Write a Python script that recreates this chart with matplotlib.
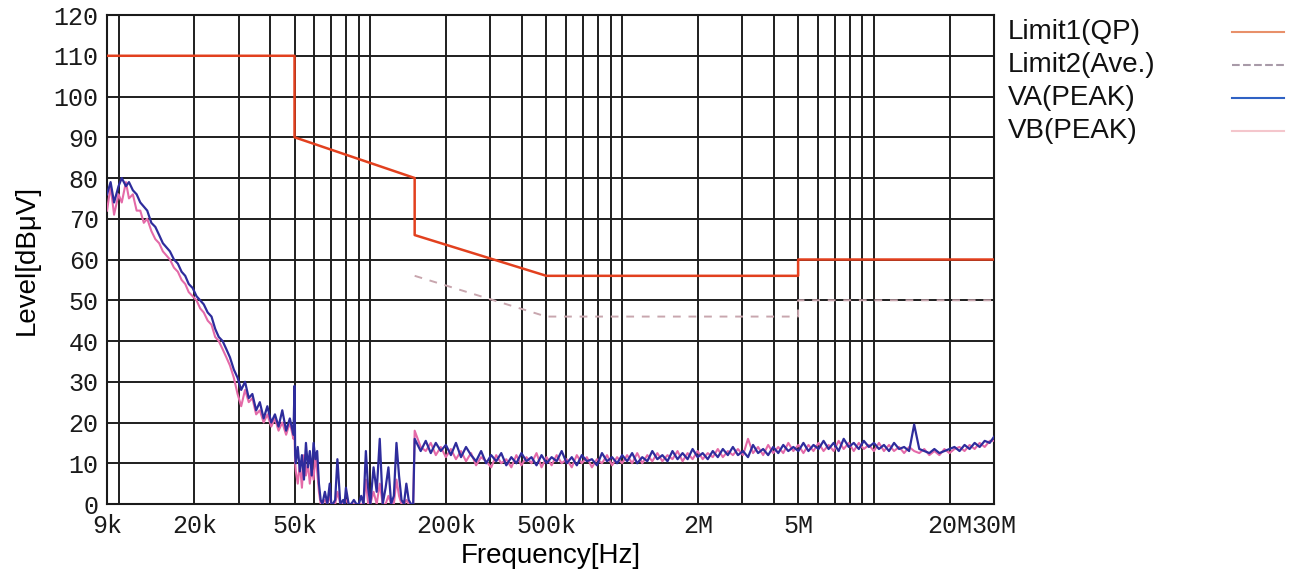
# Conducted emission scan: QP / average limits and peak traces for lines A and B
import numpy as np
import matplotlib
matplotlib.use("Agg")
import matplotlib.pyplot as plt
from matplotlib.lines import Line2D
from matplotlib.ticker import FixedLocator, FixedFormatter, LogLocator, NullFormatter

# Limit lines (frequency in Hz, level in dBuV)
limit1_freq = [9e3, 50e3, 50e3, 150e3, 150e3, 500e3, 5e6, 5e6, 30e6]
limit1_level = [110, 110, 90, 80, 66, 56, 56, 60, 60]
limit2_freq = [150e3, 500e3, 5e6, 5e6, 30e6]
limit2_level = [56, 46, 46, 50, 50]

# Receiver sweep frequencies in kHz (same sweep for both lines)
sweep_khz = [
    # 9k - 50k
    9, 9.3, 9.6, 10, 10.3, 10.7, 11, 11.4, 11.8, 12.2,
    12.6, 13, 13.5, 14, 14.5, 15, 15.5, 16, 16.6, 17.2,
    17.8, 18.4, 19, 19.7, 20.4, 21.1, 21.8, 22.6, 23.4, 24.2,
    25, 25.9, 26.8, 27.7, 28.7, 29.7, 30.7, 31.8, 32.9, 34,
    35.2, 36.4, 37.7, 39, 40.4, 41.8, 43.2, 44.7, 46.3, 47.9,
    49.5, 50, 50.3,
    # 50k - 150k
    50.6, 51.5, 52.5, 53.5, 54.5, 55.5, 56.5, 57.5, 58.5, 59.5,
    60.5, 61.5, 62.5, 63.5, 64.5, 66, 67.5, 69, 70, 71,
    72.5, 74, 76, 78, 79, 80, 82, 84, 86, 88,
    90, 92, 94, 96, 98, 100, 103, 106, 109, 112,
    115, 118, 121, 124, 127, 130, 133, 136, 139, 142,
    145, 148,
    # 150k - 1M
    150, 158.5, 166, 173.8, 182, 190.5, 199.5, 208.9, 218.8, 229.1,
    239.9, 251.2, 263, 275.4, 288.4, 302, 316.2, 331.1, 346.7, 363.1,
    380.2, 398.1, 416.9, 436.5, 457.1, 478.6, 501.2, 524.8, 549.5, 575.4,
    602.6, 631, 660.7, 691.8, 724.4, 758.6, 794.3, 831.8, 871, 912,
    955,
    # 1M - 10M
    1000, 1047, 1096, 1148, 1202, 1259, 1318, 1380, 1445, 1514,
    1585, 1660, 1738, 1820, 1905, 1995, 2089, 2188, 2291, 2399,
    2512, 2630, 2754, 2884, 3020, 3162, 3311, 3467, 3631, 3802,
    3981, 4169, 4365, 4571, 4786, 5012, 5248, 5495, 5754, 6026,
    6310, 6607, 6918, 7244, 7586, 7943, 8318, 8710, 9120, 9550,
    # 10M - 30M
    10000, 10470, 10960, 11480, 12020, 12590, 13180, 13800, 14450, 15140,
    15850, 16600, 17380, 18200, 19050, 19950, 20890, 21880, 22910, 23990,
    25120, 26300, 27540, 28840, 30000,
]

# Peak level on line A (dBuV)
va_peak = [
    76, 79, 74, 78, 80, 78, 79, 77, 76, 74,
    73, 72, 69, 68, 66, 64, 63, 62, 60, 59,
    57, 56, 54, 53, 51, 50, 49, 47, 46, 43,
    41, 40, 38, 36, 33, 31, 28, 30, 26, 27,
    23, 25, 21, 24, 20, 22, 19, 23, 18, 21,
    17, 29, 12,
    10, 14, 8, 12, 6, 15, 9, 13, 7, 15,
    11, 13, 5, 1, 0, 3, 0, 5, 0, 0,
    1, 11, 0, 1, 0, 4, 0, 0, 1, 0,
    0, 2, 0, 13, 4, 0, 9, 3, 16, 0,
    4, 9, 0, 2, 15, 7, 1, 0, 5, 1,
    0, 0,
    16, 13, 15.5, 12.5, 15, 13, 14.5, 12, 15, 11.5,
    14, 12, 10.5, 13, 10, 12, 10.5, 12.5, 9.5, 11.5,
    10, 12.5, 10.5, 11.5, 9.5, 12, 10, 11.5, 10.5, 13,
    10, 11.5, 9.5, 12, 10.5, 11, 9.5, 12.5, 10.5, 11.5,
    10,
    12, 10.5, 12.5, 10, 11.5, 10.5, 13, 11, 12, 10.5,
    13, 11, 12.5, 11, 13.5, 11.5, 12.5, 11, 13, 11.5,
    13.5, 12, 14, 12, 13, 11.5, 14.5, 12.5, 13.5, 12,
    14, 12.5, 14.5, 13, 14, 13, 15, 13, 14.5, 13.5,
    15.5, 13.5, 15, 13, 16, 14, 15, 13.5, 15.5, 14,
    15, 13.5, 14.5, 13, 15, 13.5, 14, 13, 19.5, 13.5,
    13, 12.5, 13.5, 12.5, 13, 13.5, 14, 13, 14.5, 13.5,
    15, 14, 15.5, 15, 16.5,
]

# Peak level on line B (dBuV)
vb_peak = [
    72, 78, 71, 76, 74, 79, 75, 76, 72, 72,
    69, 70, 67, 65, 64, 62, 61, 60, 58, 57,
    55, 54, 52, 51, 50, 48, 47, 45, 44, 41,
    40, 38, 36, 34, 31, 27, 24, 28, 25, 26,
    22, 23, 20, 22, 19, 21, 18, 20, 17, 20,
    16, 17, 10,
    8, 5, 10, 4, 12, 7, 10, 5, 9, 6,
    12, 8, 3, 0, 0, 1, 0, 2, 0, 0,
    0, 3, 0, 0, 0, 1, 0, 0, 0, 0,
    0, 0, 0, 6, 0, 0, 3, 0, 5, 0,
    0, 2, 0, 0, 6, 2, 0, 0, 1, 0,
    0, 0,
    18, 14, 13, 15, 12, 14, 11.5, 13.5, 11, 13,
    10.5, 12.5, 9.5, 11.5, 10.5, 9, 12, 10, 11, 9,
    12, 9.5, 11.5, 10, 12.5, 9, 11.5, 9.5, 12, 10,
    11, 9, 12, 10, 11.5, 9, 11, 10, 12, 9.5,
    11.5,
    10, 12, 10, 12.5, 10, 12, 10.5, 12.5, 10.5, 12,
    11, 13, 10.5, 12.5, 11, 13, 11, 12.5, 11.5, 13.5,
    11.5, 13, 12, 13.5, 12, 16, 12.5, 14, 12, 14.5,
    12.5, 14, 12.5, 15, 13, 14.5, 12.5, 14.5, 13, 15,
    13, 14.5, 13, 15.5, 13.5, 15, 13, 15, 13.5, 14.5,
    13, 15, 13, 14.5, 13, 14, 12.5, 14, 13, 12.5,
    13.5, 12, 13, 12, 13.5, 12.5, 13.5, 14, 13, 14.5,
    13.5, 15, 14, 15.5, 15.5,
]

# Tick positions and their labels
x_tick_freq = [9e3, 20e3, 50e3, 200e3, 500e3, 2e6, 5e6, 20e6, 30e6]
x_tick_labels = ["9k", "20k", "50k", "200k", "500k", "2M", "5M", "20M", "30M"]
y_ticks = [0, 10, 20, 30, 40, 50, 60, 70, 80, 90, 100, 110, 120]

# Legend entries: label, colour, line style
legend_labels = ["Limit1(QP)", "Limit2(Ave.)", "VA(PEAK)", "VB(PEAK)"]
legend_colors = ["#e8906a", "#a89aa8", "#2f62c4", "#f4c6cc"]
legend_styles = ["-", "--", "-", "-"]


def draw_chart(save_path="out.png"):
    fig = plt.figure(figsize=(12.94, 5.69), dpi=100)
    ax = fig.add_axes([0.0827, 0.1142, 0.6855, 0.8594])

    freq_hz = np.array(sweep_khz) * 1e3

    # measured traces, line B underneath line A
    ax.plot(freq_hz, vb_peak, color="#e46aa8", lw=1.5, zorder=3)
    ax.plot(freq_hz, va_peak, color="#2e2c9c", lw=1.6, zorder=4)

    # limit lines
    ax.plot(limit1_freq, limit1_level, color="#e2401e", lw=1.8, zorder=5)
    ax.plot(limit2_freq, limit2_level, color="#c8a6ae", lw=1.4,
            ls=(0, (4, 4)), zorder=5)

    ax.set_xscale("log")
    ax.set_xlim(9e3, 30e6)
    ax.set_ylim(0, 120)

    # every 1-9 multiple gets a grid line, only some get a label
    ax.xaxis.set_minor_locator(LogLocator(base=10, subs=range(1, 10), numticks=20))
    ax.xaxis.set_minor_formatter(NullFormatter())
    ax.xaxis.set_major_locator(FixedLocator(x_tick_freq))
    ax.xaxis.set_major_formatter(FixedFormatter(x_tick_labels))
    ax.set_yticks(y_ticks)
    ax.grid(which="both", axis="both", color="#1e1e1e", lw=1.4, zorder=1)
    ax.set_axisbelow(True)

    ax.tick_params(which="both", length=0)
    ax.tick_params(axis="x", pad=7)
    ax.tick_params(axis="y", pad=6)
    for lbl in ax.get_xticklabels() + ax.get_yticklabels():
        lbl.set_fontfamily("Liberation Mono")
        lbl.set_fontsize(18)
        lbl.set_color("#1a1a1a")

    for spine in ax.spines.values():
        spine.set_color("#1a1a1a")
        spine.set_linewidth(1.5)

    ax.set_xlabel("Frequency[Hz]", fontsize=20, family="Liberation Sans", labelpad=4)
    ax.set_ylabel("Level[dBμV]", fontsize=20, family="Liberation Sans", labelpad=10)

    # legend drawn by hand: text on the left, line sample on the right
    for i, (name, col, ls) in enumerate(zip(legend_labels, legend_colors, legend_styles)):
        y = 0.944 - i * 0.058
        fig.text(0.779, y, name, fontsize=20, family="Liberation Sans",
                 va="center", ha="left", color="#111111")
        fig.add_artist(Line2D([0.952, 0.992], [y, y], transform=fig.transFigure,
                              color=col, lw=1.5, ls=ls))

    fig.savefig(save_path, dpi=100)


if __name__ == "__main__":
    draw_chart("out.png")
